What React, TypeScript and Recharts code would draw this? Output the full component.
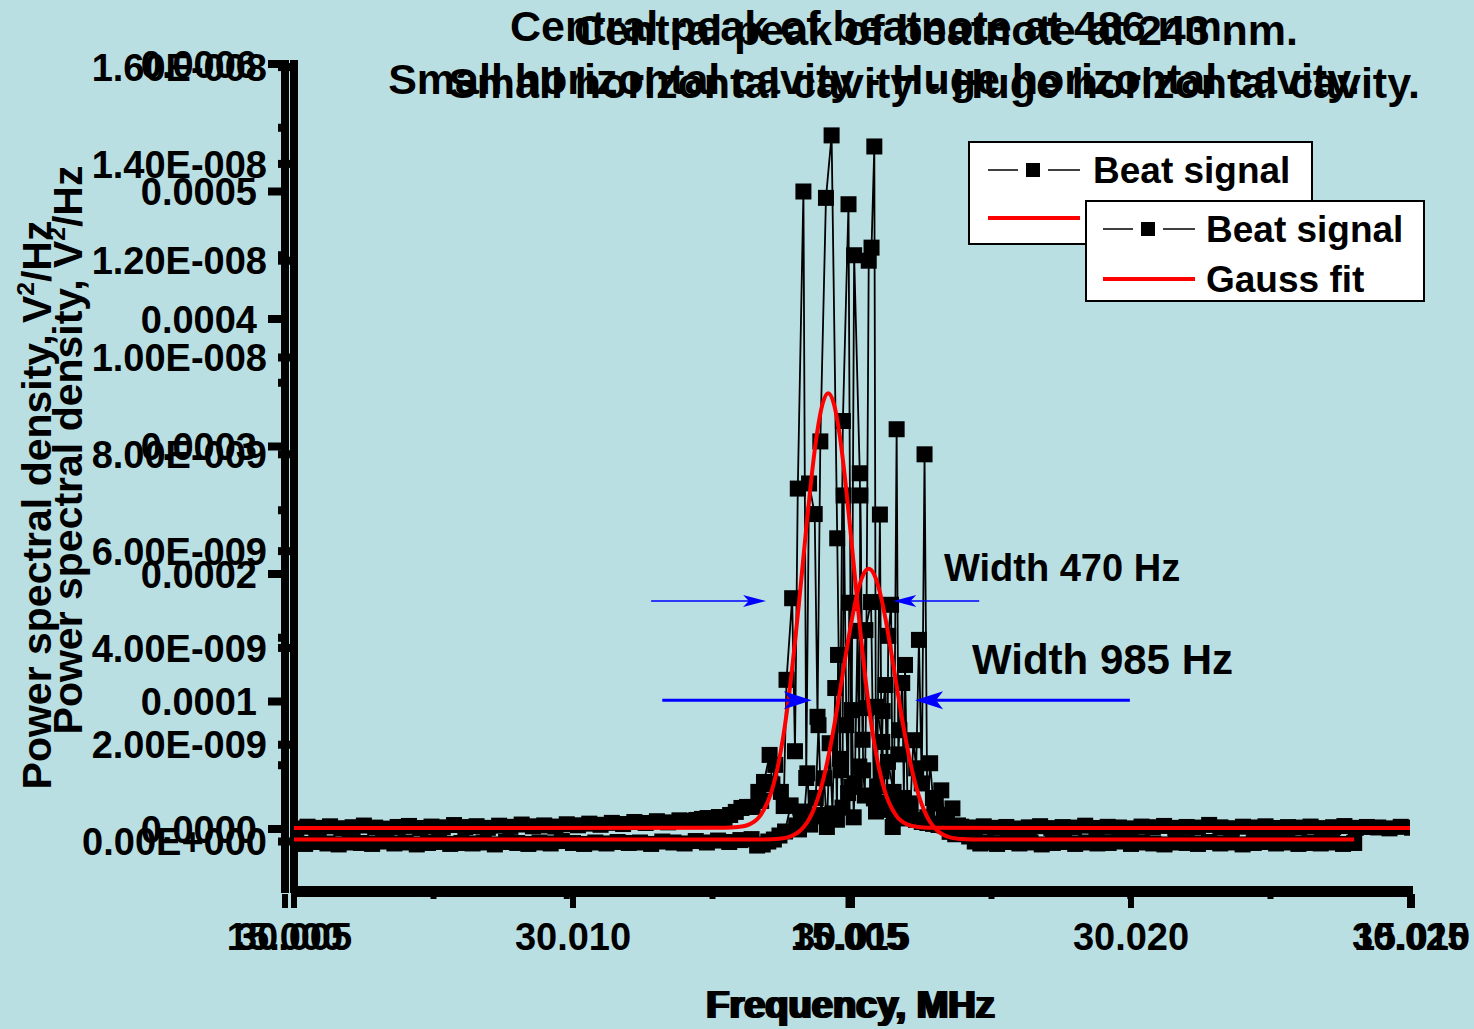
import React from 'react';
import { ComposedChart, Line, XAxis, YAxis, Legend, ReferenceLine } from 'recharts';

const W = 1474;
const H = 1029;
const BG = '#b9dfe3';
const FONT = "'Liberation Sans', Arial, Helvetica, sans-serif";
const RED = '#ff0000';
const BLUE = '#0000ff';

// 486 nm beat note: frequency in MHz, PSD in 1e-9 V^2/Hz
const beatAFreq = [
  30.005, 30.0052, 30.0054, 30.0056, 30.0058, 30.006, 30.0062, 30.0064, 30.0066, 30.0068,
  30.007, 30.0072, 30.0074, 30.0076, 30.0078, 30.008, 30.0082, 30.0084, 30.0086, 30.0088,
  30.009, 30.0092, 30.0094, 30.0096, 30.0098, 30.01, 30.0102, 30.0104, 30.0106, 30.0108,
  30.011, 30.0112, 30.0114, 30.0116, 30.0118, 30.012, 30.0122, 30.0124, 30.0126, 30.0128,
  30.013, 30.0132,
  30.0133, 30.0134, 30.0135, 30.0136, 30.0137, 30.0138, 30.0139, 30.014, 30.01405, 30.0141,
  30.01415, 30.0142, 30.01425, 30.0143, 30.01435, 30.0144, 30.01445, 30.0145, 30.01455, 30.0146,
  30.01465, 30.0147, 30.01473, 30.01475, 30.0148, 30.01483, 30.01485, 30.0149, 30.01493, 30.01495,
  30.015, 30.01503, 30.01505, 30.0151, 30.01513, 30.01515, 30.0152, 30.01523, 30.01525, 30.0153,
  30.01535, 30.0154, 30.01543, 30.01545, 30.0155, 30.01553, 30.01555, 30.0156, 30.01563, 30.01565,
  30.0157, 30.01573, 30.01575, 30.0158, 30.01583, 30.01585, 30.0159, 30.01593, 30.01595, 30.016,
  30.01605, 30.0161, 30.01615, 30.0162, 30.01625, 30.0163, 30.01635, 30.0164, 30.01645, 30.0165,
  30.01655, 30.0166, 30.01665, 30.0167, 30.01675, 30.0168, 30.01685, 30.0169, 30.017, 30.0171,
  30.0172, 30.0173,
  30.0174, 30.0176, 30.0178, 30.018, 30.0182, 30.0184, 30.0186, 30.0188, 30.019, 30.0192,
  30.0194, 30.0196, 30.0198, 30.02, 30.0202, 30.0204, 30.0206, 30.0208, 30.021, 30.0212,
  30.0214, 30.0216, 30.0218, 30.022, 30.0222, 30.0224, 30.0226, 30.0228, 30.023, 30.0232,
  30.0234, 30.0236, 30.0238, 30.024,
];
const beatAPsd = [
  -0.02, -0.05, -0.01, -0.04, -0.06, -0.02, -0.03, -0.05, 0.0, -0.04,
  -0.02, -0.06, -0.03, -0.01, -0.05, -0.03, -0.04, -0.02, -0.06, -0.01,
  -0.03, -0.05, -0.02, -0.04, 0.01, -0.03, -0.05, -0.02, -0.04, -0.01,
  -0.03, -0.02, -0.05, 0.0, -0.02, -0.04, 0.01, -0.02, 0.02, -0.01,
  0.03, 0.05,
  -0.083, -0.062, 0.0, 0.041, 0.124, 0.207, 0.746, 0.332, 0.25, 0.477,
  0.62, 1.409, 0.35, 0.518, 0.9, 2.404, 0.55, 1.306, 0.3, 2.031,
  0.58, 3.171, 0.45, 3.855, 1.471, 0.7, 7.15, 2.404, 1.0, 4.933,
  2.715, 0.5, 1.202, 4.352, 1.55, 7.15, 1.471, 0.95, 2.756, 12.0,
  12.27, 14.36, 0.62, 1.14, 6.756, 1.45, 2.694, 3.233, 0.8, 4.249,
  4.891, 0.3, 0.58, 8.518, 1.8, 2.3, 3.275, 0.9, 3.648, 0.477,
  0.788, 2.093, 1.513, 4.166, 1.2, 8.0, 0.5, 1.617, 0.9, 0.788,
  0.35, 1.057, 0.55, 0.477, 0.2, 0.684, 0.15, 0.332, 0.207, 0.104,
  0.0, -0.041,
  -0.02, -0.05, -0.01, -0.04, -0.02, -0.06, -0.03, -0.01, -0.05, -0.02,
  -0.04, -0.03, 0.0, -0.05, -0.02, -0.04, -0.06, -0.02, -0.03, -0.05,
  -0.01, -0.04, -0.02, -0.06, -0.03, -0.01, -0.04, -0.02, -0.05, -0.03,
  -0.04, -0.02, -0.05, -0.03,
];
const fitAFreq = [
  30.005, 30.01, 30.013, 30.0134, 30.0137, 30.0139,
  30.0141, 30.0142, 30.0143, 30.0144, 30.0145, 30.0146, 30.0147, 30.0148, 30.0149, 30.015,
  30.0151, 30.0152, 30.0153, 30.0154, 30.0155, 30.0156, 30.0157, 30.0158, 30.0159, 30.016,
  30.0161, 30.0162, 30.0163, 30.0164, 30.0165,
  30.0167, 30.0169, 30.0172, 30.0176, 30.02, 30.024,
];
const fitAPsd = [
  0.04, 0.04, 0.04, 0.043, 0.057, 0.106,
  0.255, 0.402, 0.622, 0.935, 1.355, 1.886, 2.517, 3.218, 3.936, 4.605,
  5.152, 5.511, 5.636, 5.511, 5.152, 4.605, 3.936, 3.218, 2.517, 1.886,
  1.355, 0.935, 0.622, 0.402, 0.255,
  0.106, 0.057, 0.043, 0.04, 0.04, 0.04,
];

// 243 nm beat note: frequency in MHz, PSD in 1e-6 V^2/Hz
const beatBFreq = [
  15.0, 15.0001, 15.0002, 15.0003, 15.0004, 15.0005, 15.0006, 15.0007, 15.0008, 15.0009,
  15.001, 15.0011, 15.0012, 15.0013, 15.0014, 15.0015, 15.0016, 15.0017, 15.0018, 15.0019,
  15.002, 15.0021, 15.0022, 15.0023, 15.0024, 15.0025, 15.0026, 15.0027, 15.0028, 15.0029,
  15.003, 15.0031, 15.0032, 15.0033, 15.0034, 15.0035,
  15.0036, 15.00365, 15.0037, 15.00375, 15.0038, 15.00385, 15.0039, 15.00395, 15.004, 15.00405,
  15.0041, 15.00415, 15.0042, 15.004225, 15.00425, 15.0043, 15.004325, 15.00435, 15.0044, 15.004425,
  15.00445, 15.0045, 15.004525, 15.00455, 15.0046, 15.004625, 15.00465, 15.0047, 15.004725, 15.00475,
  15.0048, 15.00485, 15.0049, 15.004925, 15.00495, 15.005, 15.005025, 15.00505, 15.0051, 15.005125,
  15.00515, 15.0052, 15.005225, 15.00525, 15.0053, 15.005325, 15.00535, 15.0054, 15.005425, 15.00545,
  15.0055, 15.00555, 15.0056, 15.00565, 15.0057, 15.00575, 15.0058, 15.00585, 15.0059, 15.00595,
  15.006, 15.0061, 15.0062, 15.0063, 15.0064, 15.0065, 15.0066, 15.0067, 15.0068, 15.0069,
  15.007, 15.0071, 15.0072, 15.0073, 15.0074, 15.0075, 15.0076, 15.0077, 15.0078, 15.0079,
  15.008, 15.0081, 15.0082, 15.0083, 15.0084, 15.0085, 15.0086, 15.0087, 15.0088, 15.0089,
  15.009, 15.0091, 15.0092, 15.0093, 15.0094, 15.0095, 15.0096, 15.0097, 15.0098, 15.0099,
  15.01,
];
const beatBPsd = [
  1.2, 0.4, 1.8, 0.9, 2.1, 0.6, 1.4, 2.7, 1.1, 0.3,
  1.6, 2.4, 0.8, 1.9, 1.3, 3.1, 1.5, 2.2, 0.9, 2.6,
  1.7, 3.5, 2.1, 2.8, 1.9, 3.7, 2.9, 4.2, 3.3, 4.8,
  3.9, 5.5, 4.7, 6.1, 5.2, 6.8,
  6.3, 7.1, 7.9, 8.6, 7.1, 9.4, 8.6, 11, 13.4, 16.5,
  17.3, 17.3, 29.1, 22, 36.9, 58.1, 35, 50.3, 29.1, 18,
  117, 181, 61, 267, 500, 40, 271, 247, 88, 304,
  495, 544, 228, 55, 320, 490, 33, 450, 279, 70,
  156, 178, 24, 95.8, 68.3, 15, 52.6, 29.1, 9, 21.2,
  11.8, 9.4, 7.1, 5.5, 4.7, 4.0, 3.2, 2.8, 2.1, 1.6,
  1.8, 1.2, 2.1, 0.9, 1.6, 0.4, 1.3, 2.2, 0.7, 1.5,
  1.1, 2.6, 0.8, 1.7, 1.2, 0.5, 1.9, 1.4, 2.4, 0.9,
  1.6, 1.1, 3.2, 1.3, 0.6, 1.8, 1.2, 2.1, 0.8, 1.5,
  1.1, 1.9, 0.7, 1.4, 2.3, 0.9, 1.6, 1.2, 0.5, 1.7,
  1.0,
];
const fitBFreq = [
  15.0, 15.0039, 15.00402, 15.00412, 15.00422, 15.00432, 15.00437, 15.00442, 15.00447, 15.00452,
  15.00457, 15.00462, 15.00467, 15.00472, 15.00477, 15.00482, 15.00487, 15.00492, 15.00497, 15.00502,
  15.00507, 15.00512, 15.00517, 15.00522, 15.00527, 15.00532, 15.00542, 15.00552, 15.00562, 15.0057,
  15.01,
];
const fitBPsd = [
  0.8, 0.9, 1.5, 3.6, 10.9, 30.3, 47.8, 72.0, 103.6, 142.1,
  185.7, 231.3, 274.4, 310.0, 333.5, 341.8, 333.5, 310.0, 274.4, 231.3,
  185.7, 142.1, 103.6, 72.0, 47.8, 30.3, 10.9, 3.6, 1.5, 0.9,
  0.8,
];

// axis ticks
const aXTicks = [30.005, 30.0075, 30.01, 30.0125, 30.015, 30.0175, 30.02, 30.0225, 30.025];
const aXMajor = [30.005, 30.01, 30.015, 30.02, 30.025];
const bXTicks = [15.0, 15.0025, 15.005, 15.0075, 15.01];
const bXMajor = [15.0, 15.005, 15.01];
const aYTicks = [0, 2, 4, 6, 8, 10, 12, 14, 16];
const bYTicks = [0, 50, 100, 150, 200, 250, 300, 350, 400, 450, 500, 550, 600];
const bYMajor = [0, 100, 200, 300, 400, 500, 600];

// width markers (486 nm units)
const arrow470 = { y: 4.97, left: [30.0114, 30.01346], right: [30.01728, 30.01574] };
const arrow985 = { y: 2.92, left: [30.0116, 30.01428], right: [30.01998, 30.01613] };

const beatA = beatAFreq.map((f, i) => ({ f, v: beatAPsd[i] }));
const fitA = fitAFreq.map((f, i) => ({ f, v: fitAPsd[i] }));
const beatB = beatBFreq.map((f, i) => ({ f, v: beatBPsd[i] }));
const fitB = fitBFreq.map((f, i) => ({ f, v: fitBPsd[i] }));

const near = (list: number[], v: number) => list.some((m) => Math.abs(m - v) < 1e-7);

const sciLabel = (v: number) => {
  if (v === 0) return '0.00E+000';
  const [m, e] = (v * 1e-9).toExponential(2).split('e');
  const n = Number(e);
  return `${m}E${n < 0 ? '-' : '+'}${String(Math.abs(n)).padStart(3, '0')}`;
};

const tickText = { fontFamily: FONT, fontWeight: 700, fontSize: 38, fill: '#000' } as const;

const YTickA = (props: any) => {
  const { x, y, payload } = props;
  return (
    <g>
      <line x1={x - 16} x2={x} y1={y} y2={y} stroke="#000" strokeWidth={8} />
      <text x={x - 27} y={y} dy="0.36em" textAnchor="end" {...tickText}>{sciLabel(payload.value)}</text>
    </g>
  );
};

const YTickB = (props: any) => {
  const { x, y, payload } = props;
  const major = near(bYMajor, payload.value);
  return (
    <g>
      <line x1={x - (major ? 17 : 7)} x2={x} y1={y} y2={y} stroke="#000" strokeWidth={8} />
      {major && (
        <text x={x - 28} y={y} dy="0.36em" textAnchor="end" {...tickText}>{(payload.value / 1e6).toFixed(4)}</text>
      )}
    </g>
  );
};

const makeXTick = (majors: number[], len: number, minorLen: number, labelDy: number) => (props: any) => {
  const { x, y, payload } = props;
  const major = near(majors, payload.value);
  return (
    <g>
      <line x1={x} x2={x} y1={y} y2={y + (major ? len : minorLen)} stroke="#000" strokeWidth={6} />
      {major && (
        <text x={x} y={y + labelDy} dy="0.36em" textAnchor="middle" {...tickText}>{payload.value.toFixed(3)}</text>
      )}
    </g>
  );
};

const XTickA = makeXTick(aXMajor, 19, 10, 47);
const XTickB = makeXTick(bXMajor, 14, 5, 42);

const squareDot = (p: any) => (
  <rect key={`sq-${p.index}`} x={p.cx - 8} y={p.cy - 8} width={16} height={16} fill="#000" />
);

const arrowShape = (w: number, head: number, half: number) => (p: any) => {
  const { x1, y1, x2, y2 } = p;
  const dir = x2 > x1 ? 1 : -1;
  return (
    <g>
      <line x1={x1} y1={y1} x2={x2 - dir * head * 0.7} y2={y2} stroke={BLUE} strokeWidth={w} />
      <polygon
        points={`${x2},${y2} ${x2 - dir * head},${y2 - half} ${x2 - dir * head * 0.75},${y2} ${x2 - dir * head},${y2 + half}`}
        fill={BLUE}
      />
    </g>
  );
};

const LegendSymbol = ({ beat, color }: { beat: boolean; color: string }) => (
  <svg width={92} height={20} style={{ position: 'absolute', left: 0, top: -10 }}>
    {beat ? (
      <>
        <line x1={0} x2={30} y1={10} y2={10} stroke="#000" strokeWidth={1.5} />
        <rect x={38} y={3} width={14} height={14} fill="#000" />
        <line x1={60} x2={92} y1={10} y2={10} stroke="#000" strokeWidth={1.5} />
      </>
    ) : (
      <line x1={0} x2={92} y1={10} y2={10} stroke={color} strokeWidth={4} />
    )}
  </svg>
);

const renderLegend = (props: any) => {
  const seen: Record<string, boolean> = {};
  const items = (props.payload ?? []).filter((e: any) => {
    if (seen[e.value]) return false;
    seen[e.value] = true;
    return true;
  });
  const box = (left: number, top: number, w: number, h: number, rows: number[], symX: number, textX: number) => (
    <div
      style={{
        position: 'absolute', left, top, width: w, height: h, boxSizing: 'border-box',
        border: '2px solid #000', background: '#fff',
      }}
    >
      {items.map((e: any, i: number) => (
        <div key={e.value} style={{ position: 'absolute', left: 0, top: rows[i] }}>
          <div style={{ position: 'absolute', left: symX, top: 0 }}>
            <LegendSymbol beat={e.value === 'Beat signal'} color={e.color} />
          </div>
          <span
            style={{
              position: 'absolute', left: textX, top: 0, transform: 'translateY(-50%)',
              fontSize: 37, lineHeight: 1, whiteSpace: 'nowrap',
            }}
          >
            {e.value}
          </span>
        </div>
      ))}
    </div>
  );
  return (
    <div style={{ position: 'relative', width: W, height: H, fontFamily: FONT, fontWeight: 700, color: '#000' }}>
      {box(968, 141, 345, 104, [27, 75], 18, 123)}
      {box(1085, 200, 340, 102, [27, 77], 16, 119)}
    </div>
  );
};

const Txt = ({ x, y, size, start, rotate, children }: any) => (
  <div
    style={{
      position: 'absolute', left: x, top: y, fontSize: size, lineHeight: 1, whiteSpace: 'nowrap',
      transform: `translate(${start ? '0' : '-50%'}, -50%)${rotate ? ' rotate(-90deg)' : ''}`,
    }}
  >
    {children}
  </div>
);

const yTitle = (
  <>
    Power spectral density, V<span style={{ fontSize: '0.6em', position: 'relative', top: '-0.7em' }}>2</span>/Hz
  </>
);

export default function App() {
  return (
    <div
      style={{
        position: 'absolute', left: 0, top: 0, width: W, height: H, background: BG, overflow: 'hidden',
        fontFamily: FONT, fontWeight: 700, color: '#000',
      }}
    >
      <ComposedChart width={W} height={H} margin={{ top: 64, right: 64, bottom: 0, left: 0 }}>
        <XAxis
          xAxisId="a" dataKey="f" type="number" domain={[30.005, 30.025]} ticks={aXTicks} interval={0}
          allowDataOverflow height={5} tickSize={0} tickMargin={0} tickLine={false} tick={XTickA}
          axisLine={{ stroke: '#000', strokeWidth: 6, strokeLinecap: 'square' }}
        />
        <XAxis
          xAxisId="b" dataKey="f" type="number" domain={[15.00008, 15.009982]} ticks={bXTicks} interval={0}
          allowDataOverflow height={135} tickSize={0} tickMargin={0} tickLine={false} tick={XTickB}
          axisLine={{ stroke: '#000', strokeWidth: 6, strokeLinecap: 'square' }}
        />
        <YAxis
          yAxisId="a" type="number" domain={[-0.981, 16.064]} ticks={aYTicks} interval={0}
          allowDataOverflow width={9} tickSize={0} tickMargin={0} tickLine={false} tick={YTickA}
          axisLine={{ stroke: '#000', strokeWidth: 8, strokeLinecap: 'square' }}
        />
        <YAxis
          yAxisId="b" type="number" domain={[-47.06, 600]} ticks={bYTicks} interval={0}
          allowDataOverflow width={285} tickSize={0} tickMargin={0} tickLine={false} tick={YTickB}
          axisLine={{ stroke: '#000', strokeWidth: 8, strokeLinecap: 'square' }}
        />
        <Legend
          verticalAlign="middle" align="center" layout="horizontal" content={renderLegend}
          wrapperStyle={{ left: 0, top: 0, width: W, height: H, pointerEvents: 'none' }}
        />
        <Line
          xAxisId="a" yAxisId="a" data={beatA} dataKey="v" name="Beat signal" type="linear"
          stroke="#000" strokeWidth={1.8} dot={squareDot} activeDot={false} isAnimationActive={false}
        />
        <Line
          xAxisId="b" yAxisId="b" data={beatB} dataKey="v" name="Beat signal" type="linear"
          stroke="#000" strokeWidth={1.8} dot={squareDot} activeDot={false} isAnimationActive={false}
        />
        <Line
          xAxisId="a" yAxisId="a" data={fitA} dataKey="v" name="Gauss fit" type="monotone" zIndex={1500}
          stroke={RED} strokeWidth={4} dot={false} activeDot={false} isAnimationActive={false}
        />
        <Line
          xAxisId="b" yAxisId="b" data={fitB} dataKey="v" name="Gauss fit" type="monotone" zIndex={1500}
          stroke={RED} strokeWidth={4} dot={false} activeDot={false} isAnimationActive={false}
        />
        {[arrow470, arrow985].map((a, i) => (
          <React.Fragment key={i}>
            <ReferenceLine
              xAxisId="a" yAxisId="a" ifOverflow="visible" zIndex={1600}
              segment={[{ x: a.left[0], y: a.y }, { x: a.left[1], y: a.y }]}
              shape={i === 0 ? arrowShape(1.5, 23, 6) : arrowShape(3, 28, 9)}
            />
            <ReferenceLine
              xAxisId="a" yAxisId="a" ifOverflow="visible" zIndex={1600}
              segment={[{ x: a.right[0], y: a.y }, { x: a.right[1], y: a.y }]}
              shape={i === 0 ? arrowShape(1.5, 23, 6) : arrowShape(3, 28, 9)}
            />
          </React.Fragment>
        ))}
      </ComposedChart>

      <Txt x={872} y={26} size={43}>Central peak of beatnote at 486 nm.</Txt>
      <Txt x={936} y={30} size={43}>Central peak of beatnote at 243 nm.</Txt>
      <Txt x={874} y={79} size={43}>Small horizontal cavity - Huge horizontal cavity.</Txt>
      <Txt x={934} y={83} size={43}>Small horizontal cavity - Huge horizontal cavity.</Txt>

      <Txt x={37} y={505} size={41} rotate>{yTitle}</Txt>
      <Txt x={68} y={450} size={41} rotate>{yTitle}</Txt>

      <Txt x={849} y={1005} size={38}>Frequency, MHz</Txt>
      <Txt x={852} y={1005} size={38}>Frequency, MHz</Txt>

      <Txt x={944} y={568} size={38} start>Width 470 Hz</Txt>
      <Txt x={972} y={660} size={42} start>Width 985 Hz</Txt>
    </div>
  );
}
